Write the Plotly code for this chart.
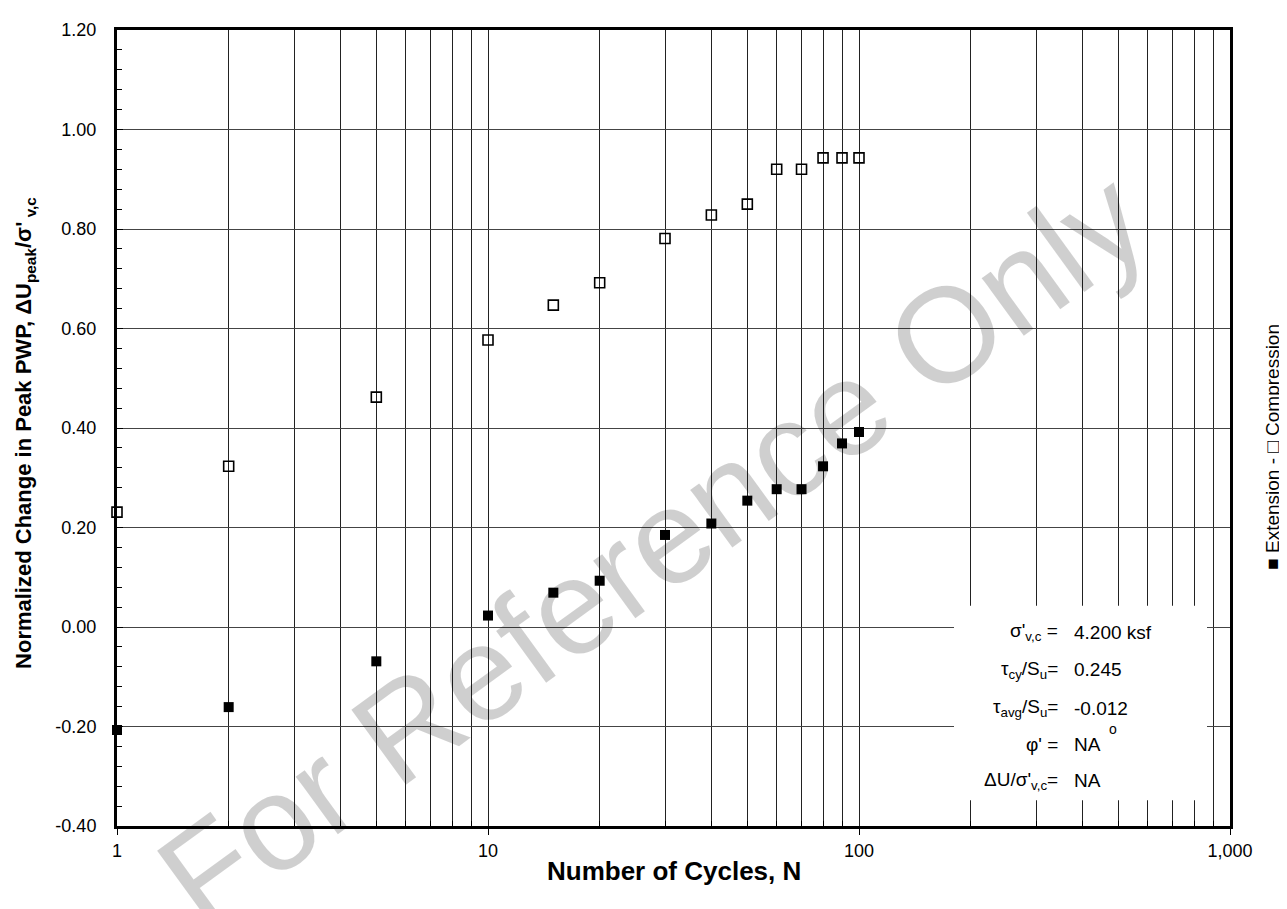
import plotly.graph_objects as go

# ---- data ----
cycles = [1, 2, 5, 10, 15, 20, 30, 40, 50, 60, 70, 80, 90, 100]
compression = [0.231, 0.323, 0.462, 0.577, 0.647, 0.692, 0.781, 0.828, 0.850, 0.920, 0.920, 0.943, 0.943, 0.943]
extension = [-0.207, -0.161, -0.069, 0.023, 0.069, 0.093, 0.185, 0.208, 0.254, 0.277, 0.277, 0.323, 0.369, 0.392]

x_tickvals = [1, 10, 100, 1000]
x_ticktext = ["1", "10", "100", "1,000"]
x_minor = [m * 10 ** k for k in range(3) for m in range(2, 10)]

y_tickvals = [-0.4, -0.2, 0.0, 0.2, 0.4, 0.6, 0.8, 1.0, 1.2]
y_ticktext = ["-0.40", "-0.20", "0.00", "0.20", "0.40", "0.60", "0.80", "1.00", "1.20"]

info_labels = ["σ'<sub>v,c</sub> =", "τ<sub>cy</sub>/S<sub>u</sub>=", "τ<sub>avg</sub>/S<sub>u</sub>=",
               "φ' =", "ΔU/σ'<sub>v,c</sub>="]
info_values = ["4.200 ksf", "0.245", "-0.012", "NA", "NA"]

FONT = "Liberation Sans, Arial, sans-serif"

fig = go.Figure()
fig.add_trace(go.Scatter(x=cycles, y=compression, mode="markers", name="Compression",
                         marker=dict(symbol="square-open", size=10, color="black", line=dict(width=1.6, color="black")),
                         cliponaxis=False, showlegend=False))
fig.add_trace(go.Scatter(x=cycles, y=extension, mode="markers", name="Extension",
                         marker=dict(symbol="square", size=10, color="black"),
                         cliponaxis=False, showlegend=False))

W, H = 1287, 909
OFF = 8  # default page body margin
L, R, T, B = 117, 1230, 20, 826
def px(x):
    return (x - L) / (R - L)
def py(y):
    return (B - y) / (B - T)

fig.update_layout(
    width=W - OFF, height=H - OFF,
    margin=dict(l=L - OFF, r=W - R, t=T - OFF, b=H - B, pad=0),
    paper_bgcolor="white", plot_bgcolor="white",
    font=dict(family=FONT, size=18, color="black"),
    xaxis=dict(type="log", range=[0, 3], tickvals=x_tickvals, ticktext=x_ticktext,
               ticks="outside", ticklen=6, tickwidth=1, tickcolor="black",
               showgrid=True, gridcolor="#222", gridwidth=1,
               showline=True, linewidth=3, linecolor="black", mirror=True,
               zeroline=False, ticklabelstandoff=0,
               minor=dict(tickvals=x_minor, ticks="inside", ticklen=5, tickcolor="black",
                          showgrid=True, gridcolor="#222", gridwidth=1),
               tickfont=dict(size=18)),
    yaxis=dict(range=[-0.4, 1.2], tickvals=y_tickvals, ticktext=y_ticktext,
               ticks="inside", ticklen=6, tickcolor="black",
               showgrid=True, gridcolor="#444", gridwidth=1,
               showline=True, linewidth=3, linecolor="black", mirror=True,
               zeroline=False, ticklabelstandoff=14,
               minor=dict(dtick=0.04, tick0=0, ticks="inside", ticklen=5, tickcolor="black", showgrid=False),
               tickfont=dict(size=18)),
)

# info box
fig.add_shape(type="rect", xref="paper", yref="paper",
              x0=px(954), x1=px(1207), y0=py(800), y1=py(603),
              fillcolor="white", line=dict(width=0), layer="above")

rows_y = [630, 668, 707, 743, 780]
for lab, val, yy in zip(info_labels, info_values, rows_y):
    fig.add_annotation(xref="paper", yref="paper", x=px(1060), y=py(yy), text=lab,
                       showarrow=False, xanchor="right", yanchor="middle", font=dict(size=19))
    fig.add_annotation(xref="paper", yref="paper", x=px(1072), y=py(yy), text=val,
                       showarrow=False, xanchor="left", yanchor="middle", font=dict(size=19))
fig.add_annotation(xref="paper", yref="paper", x=px(1113), y=py(728), text="o",
                   showarrow=False, xanchor="center", yanchor="middle", font=dict(size=14))

# axis titles
fig.add_annotation(xref="paper", yref="paper", x=0.5, y=py(872),
                   text="<b>Number of Cycles, N</b>", showarrow=False,
                   xanchor="center", yanchor="middle", font=dict(size=26))
fig.add_annotation(xref="paper", yref="paper", x=px(25), y=py(428),
                   text="<b>Normalized Change in Peak PWP, ΔU<sub>peak</sub>/σ'<sub> v,c</sub></b>",
                   showarrow=False, textangle=-90,
                   xanchor="center", yanchor="middle", font=dict(size=22))

# rotated legend on right
fig.add_annotation(xref="paper", yref="paper", x=px(1273), y=py(442),
                   text="■ Extension - □ Compression", showarrow=False, textangle=-90,
                   xanchor="center", yanchor="middle", font=dict(size=19))

# watermark
fig.add_annotation(xref="paper", yref="paper", x=px(652), y=py(545),
                   text="For Reference Only", showarrow=False, textangle=-36,
                   xanchor="center", yanchor="middle",
                   font=dict(size=135, color="rgba(0,0,0,0.19)", family=FONT))

fig.write_html("out.html")
